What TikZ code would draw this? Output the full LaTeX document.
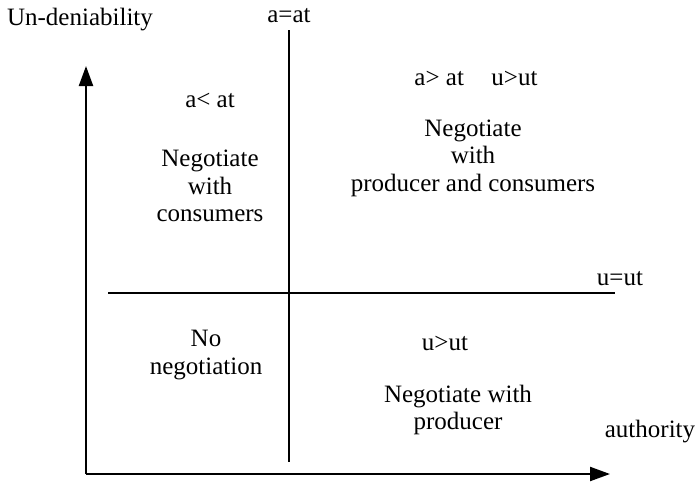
\documentclass[tikz,border=0pt]{standalone}
\usepackage{fontspec}
\setmainfont{Liberation Serif}
\usetikzlibrary{arrows.meta}
\begin{document}
\begin{tikzpicture}[x=1pt,y=-1pt,
  lbl/.style={font=\fontsize{25}{27.5}\selectfont, inner sep=0pt, align=center},
  axis/.style={line width=2.2pt, -{Triangle[length=20pt,width=14pt]}},
  divider/.style={line width=2.2pt}]
\useasboundingbox (0,0) rectangle (695,488);
% axes
\coordinate (O) at (86,474);
\coordinate (ytip) at (86,66);
\coordinate (xtip) at (610,474);
\draw[axis] (O) -- (ytip);
\draw[axis] (O) -- (xtip);
% dividers
\coordinate (vtop) at (289,30);
\coordinate (vbot) at (289,462);
\coordinate (hl) at (108,293);
\coordinate (hr) at (615,293);
\draw[divider] (vtop) -- (vbot);
\draw[divider] (hl) -- (hr);
% labels
\node[lbl] (yl) at (80,20) {Un-deniability};
\node[lbl] (aeq) at (289,16) {a=at};
\node[lbl] (ueq) at (620,279) {u=ut};
\node[lbl] (xl) at (650,432) {authority};
\node[lbl] (q1c) at (210,100) {a< at};
\node[lbl] (q1) at (210,186) {Negotiate\\with\\consumers};
\node[lbl] (q2c) at (476,78) {a> at\hspace{1.1em}u>ut};
\node[lbl] (q2) at (473,158) {Negotiate\\with\\producer and consumers};
\node[lbl] (q3) at (206,355) {No\\negotiation};
\node[lbl] (q4c) at (445,343) {u>ut};
\node[lbl] (q4) at (458,410) {Negotiate with\\producer};
\end{tikzpicture}
\end{document}
